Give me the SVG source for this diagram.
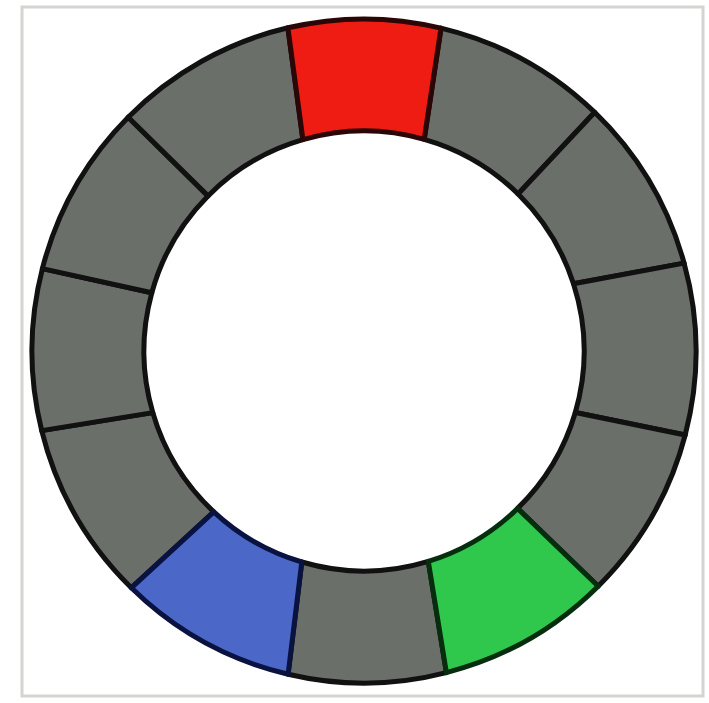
<svg xmlns="http://www.w3.org/2000/svg" width="709" height="703" viewBox="0 0 709 703">
<style>
.seg{stroke:#111;stroke-width:5;stroke-linejoin:round}
.g{fill:#6b6f69}
.r{fill:#ee1c12;stroke:#2a0606}
.gr{fill:#2fc84c;stroke:#062e0e}
.b{fill:#4b68c8;stroke:#0a1240}
</style>
<rect x="0" y="0" width="709" height="703" fill="#fff"/>
<rect id="frame" x="22" y="7" width="681" height="689" fill="#fff" stroke="#d4d4d0" stroke-width="3"/>
<g id="ring">
<g id="seg-1"><path class="seg g" d="M441,28.1 A332,332 0 0 1 594.7,112.3 L518.1,194 A220,220 0 0 0 424.2,139.3 Z"/></g>
<g id="seg-2"><path class="seg g" d="M594.7,112.3 A332,332 0 0 1 684.1,263.1 L573.5,283.8 A220,220 0 0 0 518.1,194 Z"/></g>
<g id="seg-3"><path class="seg g" d="M684.1,263.1 A332,332 0 0 1 685.2,435 L575.3,412.5 A220,220 0 0 0 573.5,283.8 Z"/></g>
<g id="seg-4"><path class="seg g" d="M685.2,435 A332,332 0 0 1 598.2,586.2 L517.6,508.4 A220,220 0 0 0 575.3,412.5 Z"/></g>
<g id="seg-6"><path class="seg g" d="M446.4,672.6 A332,332 0 0 1 288.1,674.2 L301.8,562 A220,220 0 0 0 428.3,561.4 Z"/></g>
<g id="seg-8"><path class="seg g" d="M131.3,587.8 A332,332 0 0 1 41.7,430.6 L152.8,412.6 A220,220 0 0 0 213.8,511.8 Z"/></g>
<g id="seg-9"><path class="seg g" d="M41.7,430.6 A332,332 0 0 1 42.4,268.6 L151.8,292.8 A220,220 0 0 0 152.8,412.6 Z"/></g>
<g id="seg-10"><path class="seg g" d="M42.4,268.6 A332,332 0 0 1 128.2,117.2 L208,195.9 A220,220 0 0 0 151.8,292.8 Z"/></g>
<g id="seg-11"><path class="seg g" d="M128.2,117.2 A332,332 0 0 1 287.9,27.8 L302.9,139.6 A220,220 0 0 0 208,195.9 Z"/></g>
<g id="seg-red"><path class="seg r" d="M287.9,27.8 A332,332 0 0 1 441,28.1 L424.2,139.3 A220,220 0 0 0 302.9,139.6 Z"/></g>
<g id="seg-green"><path class="seg gr" d="M598.2,586.2 A332,332 0 0 1 446.4,672.6 L428.3,561.4 A220,220 0 0 0 517.6,508.4 Z"/></g>
<g id="seg-blue"><path class="seg b" d="M288.1,674.2 A332,332 0 0 1 131.3,587.8 L213.8,511.8 A220,220 0 0 0 301.8,562 Z"/></g>
</g>
<g id="connectors"></g>
</svg>
